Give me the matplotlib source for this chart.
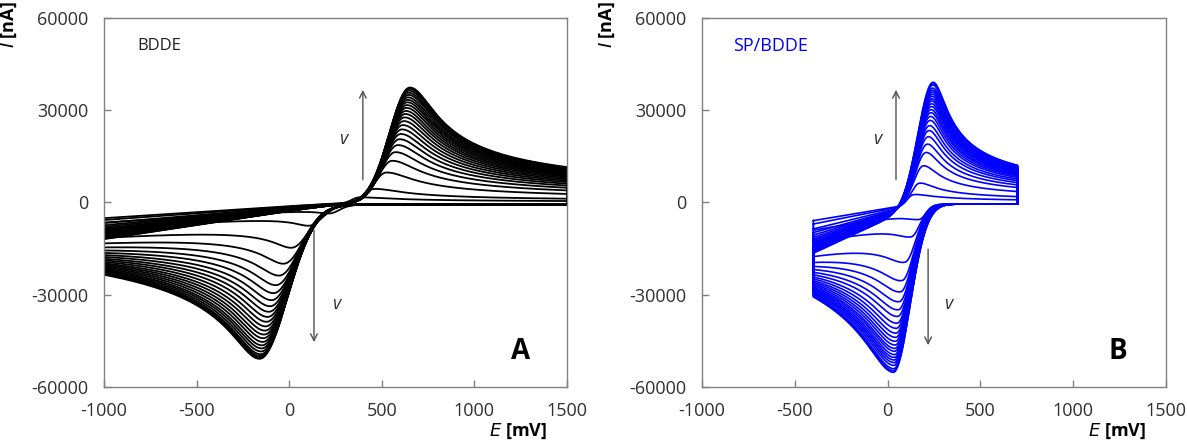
import numpy as np
import matplotlib.pyplot as plt

plt.rcParams['font.family'] = ['Open Sans', 'DejaVu Sans']
plt.rcParams['axes.unicode_minus'] = False

# ---- panel A: BDDE, scan window -1000 .. 1500 mV -------------------------
A_E_START, A_E_SWITCH = -1000, 1500
# anodic peak current [nA] and potential [mV], one value per scan rate
A_IPA = [1800, 4500, 9800, 13600, 16400, 18700, 20600, 22300, 23800, 25200,
         26500, 27700, 28800, 29800, 30800, 31700, 32600, 33400, 34200, 35000,
         35700, 36400, 37000, 37400]
A_EPA = [377, 460, 525, 556, 574, 587, 596, 603, 609, 614, 619, 623, 627, 630,
         633, 636, 638, 640, 642, 645, 646, 648, 650, 652]
# cathodic peak current [nA] (magnitude) and potential [mV]
A_IPC = [2500, 6000, 12700, 17800, 21700, 24900, 27600, 30000, 32100, 34000,
         35800, 37500, 39100, 40600, 42000, 43300, 44600, 45800, 46900, 48000,
         49000, 49600, 50100, 50500]
A_EPC = [218, 108, 15, -27, -52, -69, -82, -93, -101, -108, -115, -121, -126,
         -130, -135, -139, -142, -146, -148, -151, -154, -156, -158, -160]
# current at the start of the anodic sweep and at the end of the cathodic one
A_I_START = [-5100, -5700, -6700, -7400, -7900, -8400, -8700, -9000, -9300,
             -9600, -9800, -10100, -10300, -10500, -10700, -10800, -11000,
             -11100, -11300, -11500, -11600, -11700, -11800, -11900]
A_I_END = [-6500, -8500, -11500, -13300, -14600, -15600, -16400, -17100,
           -17700, -18300, -18800, -19300, -19800, -20200, -20600, -21000,
           -21400, -21800, -22100, -22400, -22700, -23000, -23300, -23500]

# ---- panel B: SP/BDDE, scan window -400 .. 700 mV -------------------------
B_E_START, B_E_SWITCH = -400, 700
B_IPA = [3200, 6800, 12400, 16700, 19400, 21800, 23800, 25400, 27100, 28400,
         29600, 30600, 31600, 32500, 33400, 34100, 34900, 35600, 36300, 36900,
         37600, 38600, 39100, 39500]
B_EPA = [139, 171, 192, 206, 213, 218, 222, 225, 228, 230, 232, 233, 235, 236,
         237, 238, 239, 240, 240, 241, 242, 243, 244, 244]
B_IPC = [4500, 9600, 17400, 23500, 27300, 30700, 33500, 35800, 38200, 40000,
         41700, 43200, 44600, 45900, 47100, 48100, 49300, 50300, 51200, 52100,
         53100, 54300, 55000, 55600]
B_EPC = [169, 127, 94, 78, 70, 63, 58, 55, 51, 48, 46, 44, 42, 41, 39, 38, 37,
         36, 35, 34, 33, 32, 31, 30]
B_I_START = [-5900, -7000, -8600, -9800, -10600, -11300, -11900, -12400,
             -12900, -13200, -13600, -13900, -14200, -14400, -14700, -14900,
             -15100, -15300, -15500, -15700, -15900, -16200, -16300, -16500]
B_I_END = [-9000, -13000, -17600, -19500, -20800, -21800, -22700, -23500,
           -24200, -24800, -25400, -25900, -26400, -26900, -27400, -27800,
           -28200, -28600, -29000, -29400, -29800, -30200, -30500, -30700]

XTICKS = [-1000, -500, 0, 500, 1000, 1500]
YTICKS = [-60000, -30000, 0, 30000, 60000]


def hinge(u, s):
    return s * np.log1p(np.exp(u / s))


def cv_loop(e_start, e_switch, ipa, epa, ipc, epc, i0, i_end, ipa_max, ipc_max,
            shape):
    w_a, p_a, d_a, w_c, p_c, d_c, e_bg, s_bg, i_rest = shape
    ef = np.linspace(e_start, e_switch, 800)
    er = ef[::-1]
    knee = hinge(e_bg - e_start, s_bg)

    # anodic sweep: background + peak with diffusion tail
    wa = w_a * (ipa / ipa_max) ** 0.35
    xa = ef - epa
    anod = np.where(xa < 0, np.exp(-0.5 * (xa / wa) ** 2),
                    (1 + (xa / d_a) ** 2) ** -p_a)
    i_f = i0 * hinge(e_bg - ef, s_bg) / knee + ipa * anod

    # cathodic sweep, smaller waves are narrower on both sides
    sc = (ipc / ipc_max) ** 0.35
    xc = er - epc
    cath = np.where(xc > 0, np.exp(-0.5 * (xc / (w_c * sc)) ** 2),
                    (1 + (xc / (d_c * sc)) ** 2) ** -p_c)
    coef = i_end - i_rest + ipc * cath[-1]
    i_r = i_rest + coef * hinge(e_bg - er, s_bg) / knee - ipc * cath

    e = np.concatenate([ef, er, ef[:1]])
    i = np.concatenate([i_f, i_r, i_f[:1]])
    return e, i


def draw_panel(ax, e_start, e_switch, ipa, epa, ipc, epc, i0, i_end, shape,
               color, lw):
    for k in range(len(ipa)):
        e, i = cv_loop(e_start, e_switch, ipa[k], epa[k], ipc[k], epc[k],
                       i0[k], i_end[k], max(ipa), max(ipc), shape)
        ax.plot(e, i, color=color, lw=lw, solid_joinstyle='round')
    ax.set_xlim(-1000, 1500)
    ax.set_ylim(-60000, 60000)
    ax.set_xticks(XTICKS)
    ax.set_yticks(YTICKS)
    ax.tick_params(direction='in', length=5, width=1, color='#808080',
                   labelsize=13, labelcolor='#303030', pad=11)
    for sp in ax.spines.values():
        sp.set_color('#808080')
        sp.set_linewidth(1.0)
    ax.text(-0.205, 1.045, r'$\mathbf{\mathit{I}}$ [nA]', transform=ax.transAxes,
            rotation=90, ha='center', va='top', fontsize=13, fontweight='bold')
    ax.text(0.895, -0.12, r'$\mathbf{\mathit{E}}$ [mV]', transform=ax.transAxes,
            ha='center', va='center', fontsize=13, fontweight='bold')


def arrows(ax, x_up, x_dn, y_dn0, y_dn1, xl_up, xl_dn):
    props = dict(arrowstyle='->', color='#505050', lw=1.0, mutation_scale=12)
    ax.annotate('', xy=(x_up, 37500), xytext=(x_up, 6500), arrowprops=props)
    ax.annotate('', xy=(x_dn, y_dn1), xytext=(x_dn, y_dn0), arrowprops=props)
    ax.text(xl_up, 20500, 'v', style='italic', fontsize=13, color='#303030',
            ha='center', va='center')
    ax.text(xl_dn, -33000, 'v', style='italic', fontsize=13, color='#303030',
            ha='center', va='center')


fig = plt.figure(figsize=(11.87, 4.42), dpi=100)
ax_a = fig.add_axes([0.0876, 0.1244, 0.390, 0.835])
ax_b = fig.add_axes([0.5914, 0.1244, 0.391, 0.835])

# shape parameters: anodic rise width, tail power, tail scale, cathodic rise
# width, tail power, tail scale, background knee, knee softness, resting current
draw_panel(ax_a, A_E_START, A_E_SWITCH, A_IPA, A_EPA, A_IPC, A_EPC, A_I_START,
           A_I_END, (110, 0.3, 120, 150, 0.2, 128, 300, 100, -600), 'black', 1.3)
draw_panel(ax_b, B_E_START, B_E_SWITCH, B_IPA, B_EPA, B_IPC, B_EPC, B_I_START,
           B_I_END, (80, 0.3, 64, 90, 0.2, 125, 190, 50, -500), '#0000ff', 1.2)

arrows(ax_a, 398, 134, -8150, -46300, 290, 253)
arrows(ax_b, 45, 218, -14300, -47300, -57, 325)

ax_a.text(-822, 51000, 'BDDE', fontsize=12, color='#202020', va='center')
ax_b.text(-833, 51000, 'SP/BDDE', fontsize=13, color='#0000ff', va='center')
ax_a.text(1252, -48600, 'A', fontsize=20, fontweight='bold', ha='center',
          va='center')
ax_b.text(1241, -48600, 'B', fontsize=20, fontweight='bold', ha='center',
          va='center')

fig.savefig('out.png', dpi=100)
